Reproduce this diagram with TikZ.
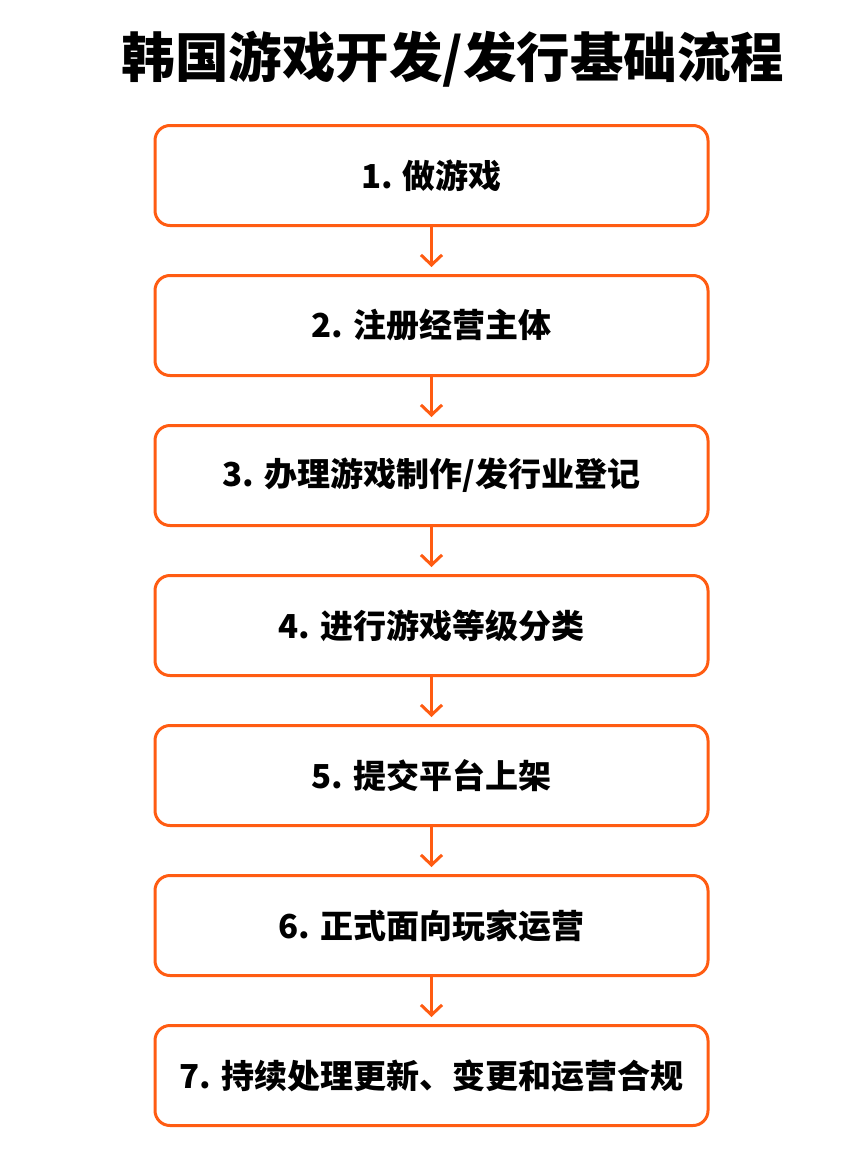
\documentclass[tikz,border=0pt]{standalone}
\usepackage{fontspec}
\newfontfamily\cjk{Noto Sans CJK SC}
\usetikzlibrary{arrows.meta}
\definecolor{flow}{RGB}{255,92,18}
\tikzset{
	stepbox/.style={draw=flow,line width=3pt,rounded corners=15pt,fill=white,
		minimum width=553pt,minimum height=100pt,font=\cjk\bfseries\fontsize{33}{36}\selectfont},
	flowarrow/.style={draw=flow,line width=3pt,line cap=round,
		-{Straight Barb[length=10pt,width=21pt,line width=3pt]},shorten >=7pt}
}
\begin{document}
\begin{tikzpicture}[x=1pt,y=-1pt]
	\useasboundingbox (0,0) rectangle (864,1151);
	\node (title) at (453,59) {\cjk\bfseries\fontsize{53.5}{56}\selectfont 韩国游戏开发/发行基础流程};
	\node[stepbox] (s1) at (431.5,175.5) {1. 做游戏};
	\node[stepbox] (s2) at (431.5,325.5) {2. 注册经营主体};
	\node[stepbox] (s3) at (431.5,475.5) {3. 办理游戏制作/发行业登记};
	\node[stepbox] (s4) at (431.5,625.5) {4. 进行游戏等级分类};
	\node[stepbox] (s5) at (431.5,775.5) {5. 提交平台上架};
	\node[stepbox] (s6) at (431.5,925.5) {6. 正式面向玩家运营};
	\node[stepbox] (s7) at (431.5,1075.5) {7. 持续处理更新、变更和运营合规};
	\draw[flowarrow] (s1) -- (s2);
	\draw[flowarrow] (s2) -- (s3);
	\draw[flowarrow] (s3) -- (s4);
	\draw[flowarrow] (s4) -- (s5);
	\draw[flowarrow] (s5) -- (s6);
	\draw[flowarrow] (s6) -- (s7);
\end{tikzpicture}
\end{document}
